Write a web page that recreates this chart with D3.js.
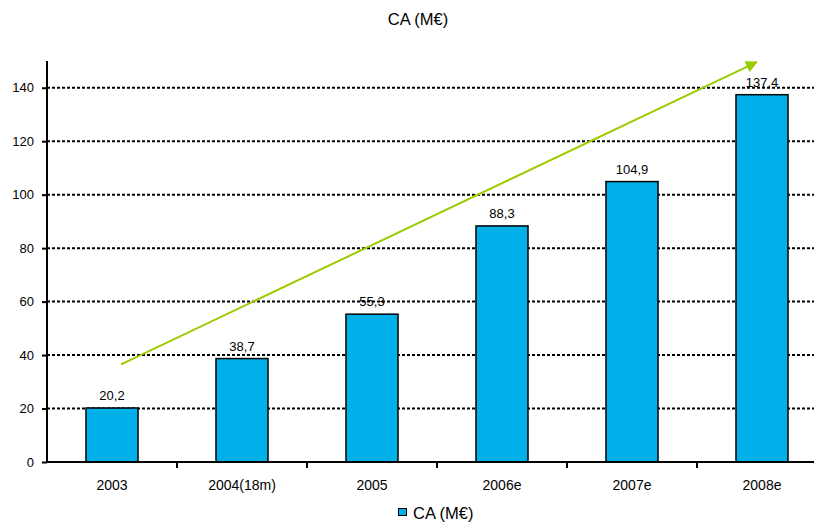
<!DOCTYPE html>
<html>
<head>
<meta charset="utf-8">
<script src="https://cdn.jsdelivr.net/npm/d3@7"></script>
<style>
  body { margin: 0; background: #fff; }
  svg { display: block; font-family: "Liberation Sans", Arial, sans-serif; }
</style>
</head>
<body>
<script>
'use strict';

// chart data
const categories = ["2003", "2004(18m)", "2005", "2006e", "2007e", "2008e"];
const caValues = [20.2, 38.7, 55.3, 88.3, 104.9, 137.4];
const yTicks = [0, 20, 40, 60, 80, 100, 120, 140];
// trend arrow, as [category index, value]
const trendArrow = [[0.07, 36.5], [4.96, 149.6]];

const width = 814, height = 524;
const svg = d3.select('body').append('svg')
  .attr('width', width)
  .attr('height', height);

// arrow marker
svg.append('defs').append('marker')
  .attr('id', 'arrowhead')
  .attr('viewBox', '0 0 10 10')
  .attr('refX', 9)
  .attr('refY', 5)
  .attr('markerWidth', 7)
  .attr('markerHeight', 6)
  .attr('markerUnits', 'strokeWidth')
  .attr('orient', 'auto')
  .append('path')
  .attr('d', 'M0,0 L10,5 L0,10 z')
  .attr('fill', '#99cc00');

// scales
const x = d3.scaleBand()
  .domain(categories)
  .range([47, 827])
  .paddingInner(0.6)
  .paddingOuter(0.3);

const xIdx = d3.scaleLinear()
  .domain([0, categories.length - 1])
  .range([x(categories[0]) + x.bandwidth() / 2,
          x(categories[categories.length - 1]) + x.bandwidth() / 2]);

const y = d3.scaleLinear()
  .domain([0, 150])
  .range([462, 61]);

// dotted grid lines
svg.append('g')
  .selectAll('line')
  .data(yTicks.filter(d => d > 0))
  .enter()
  .append('line')
    .attr('x1', 47)
    .attr('x2', width)
    .attr('y1', d => y(d))
    .attr('y2', d => y(d))
    .attr('stroke', '#000')
    .attr('stroke-width', 2)
    .attr('stroke-dasharray', '3,2');

// bars
svg.append('g')
  .selectAll('rect')
  .data(caValues)
  .enter()
  .append('rect')
    .attr('x', (d, i) => x(categories[i]))
    .attr('y', d => y(d))
    .attr('width', x.bandwidth())
    .attr('height', d => y(0) - y(d))
    .attr('fill', '#00b0e8')
    .attr('stroke', '#000')
    .attr('stroke-width', 1.5);

// value labels
svg.append('g')
  .selectAll('text')
  .data(caValues)
  .enter()
  .append('text')
    .attr('x', (d, i) => x(categories[i]) + x.bandwidth() / 2)
    .attr('y', d => y(d) - 8)
    .attr('text-anchor', 'middle')
    .style('font-size', '13px')
    .attr('fill', '#000')
    .text(d => d.toFixed(1).replace('.', ','));

// y axis
const yAxis = d3.axisLeft(y).tickValues(yTicks).tickSize(5).tickPadding(8);
const gy = svg.append('g')
  .attr('transform', 'translate(47,0)')
  .call(yAxis);
gy.select('.domain').attr('stroke-width', 2).attr('d', 'M0,' + y(150) + 'V' + y(0));
gy.selectAll('.tick line').attr('stroke-width', 2);
gy.selectAll('.tick text')
  .style('font-size', '13px')
  .style('font-family', '"Liberation Sans", Arial, sans-serif');

// x axis: ticks at category boundaries
const gx = svg.append('g').attr('transform', 'translate(0,' + y(0) + ')');
gx.append('line')
  .attr('x1', 47).attr('x2', width)
  .attr('stroke', '#000').attr('stroke-width', 2);
const step = x.step();
gx.selectAll('line.tick')
  .data(categories.slice(1))
  .enter()
  .append('line')
    .attr('class', 'tick')
    .attr('x1', d => x(d) + x.bandwidth() / 2 - step / 2)
    .attr('x2', d => x(d) + x.bandwidth() / 2 - step / 2)
    .attr('y1', 0).attr('y2', 6)
    .attr('stroke', '#000').attr('stroke-width', 2);
gx.selectAll('text')
  .data(categories)
  .enter()
  .append('text')
    .attr('x', d => x(d) + x.bandwidth() / 2)
    .attr('y', 28)
    .attr('text-anchor', 'middle')
    .style('font-size', '14px')
    .text(d => d);

// trend arrow
svg.append('line')
  .attr('x1', xIdx(trendArrow[0][0]))
  .attr('y1', y(trendArrow[0][1]))
  .attr('x2', xIdx(trendArrow[1][0]))
  .attr('y2', y(trendArrow[1][1]))
  .attr('stroke', '#99cc00')
  .attr('stroke-width', 2)
  .attr('marker-end', 'url(#arrowhead)');

// title
svg.append('text')
  .attr('x', 418)
  .attr('y', 25)
  .attr('text-anchor', 'middle')
  .style('font-size', '16.5px')
  .text('CA (M€)');

// legend
svg.append('rect')
  .attr('x', 398.5).attr('y', 508.5)
  .attr('width', 8).attr('height', 7)
  .attr('fill', '#00b0e8')
  .attr('stroke', '#000').attr('stroke-width', 1);
svg.append('text')
  .attr('x', 413)
  .attr('y', 519)
  .style('font-size', '16.5px')
  .text('CA (M€)');
</script>
</body>
</html>
